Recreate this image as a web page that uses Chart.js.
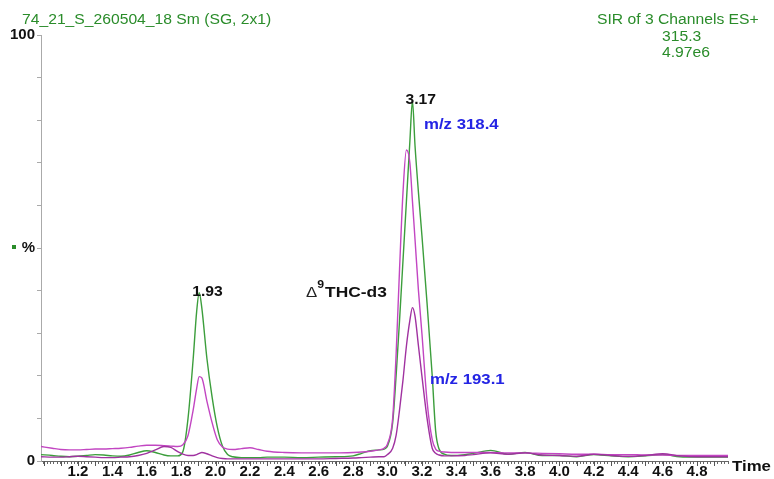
<!DOCTYPE html>
<html lang="en">
<head>
  <meta charset="UTF-8" />
  <title>SIR of 3 Channels</title>
  <script src="https://cdn.jsdelivr.net/npm/chart.js"></script>
  <style>
    html, body { margin: 0; padding: 0; background: #fff; }
    #wrap { width: 774px; height: 479px; position: relative; }
  </style>
</head>
<body>
  <div id="wrap"><canvas id="chrom"></canvas></div>

  <script>
    // retention time (min)
    const times = [
      0.985, 1.05, 1.10, 1.15, 1.20, 1.25, 1.30, 1.35, 1.40, 1.45,
      1.50, 1.55, 1.60, 1.65, 1.70, 1.74, 1.78, 1.81, 1.84, 1.87,
      1.89, 1.905, 1.92, 1.95, 1.98, 2.01, 2.04, 2.07, 2.10, 2.15,
      2.20, 2.25, 2.30, 2.40, 2.50, 2.60, 2.70, 2.80, 2.85, 2.90,
      2.95, 2.98, 3.00, 3.03, 3.05, 3.07, 3.09, 3.11, 3.13, 3.145,
      3.16, 3.18, 3.20, 3.23, 3.26, 3.28, 3.30, 3.33, 3.37, 3.45,
      3.50, 3.60, 3.70, 3.80, 3.90, 4.00, 4.10, 4.20, 4.30, 4.40,
      4.50, 4.60, 4.70, 4.80, 4.90, 4.98
    ];
    // relative intensity (%) per channel
    const greenSig = [
      1.5, 1.3, 1.1, 1.0, 1.1, 1.3, 1.5, 1.4, 1.2, 1.1,
      1.4, 2.0, 2.4, 2.0, 1.4, 1.2, 1.2, 2.2, 10, 24,
      35, 39.5, 36, 24, 15, 8, 3.5, 1.5, 1.0, 0.8,
      0.8, 0.8, 0.9, 0.9, 0.8, 0.9, 1.0, 1.2, 1.8, 2.4,
      2.6, 2.8, 3.5, 9, 20, 33, 47, 61, 75, 84.5,
      74, 63, 53, 37, 20, 7, 2.8, 1.6, 1.3, 1.5,
      1.8, 2.5, 1.6, 2.0, 1.3, 1.3, 1.0, 1.5, 1.2, 1.0,
      1.2, 1.5, 1.0, 0.9, 0.9, 0.9
    ];
    const magentaSig = [
      3.4, 3.0, 2.7, 2.6, 2.6, 2.7, 2.8, 2.8, 2.9, 3.0,
      3.2, 3.5, 3.7, 3.7, 3.6, 3.5, 3.4, 3.8, 6, 12,
      17, 19.8, 19.5, 14, 9, 5, 3.3, 2.8, 2.7, 2.9,
      3.1, 2.7, 2.3, 2.0, 1.9, 1.9, 1.9, 2.0, 2.1, 2.3,
      2.6, 3.0, 4, 10, 25, 45, 63, 73, 70, 61,
      52, 40, 30, 14, 5, 2.8, 2.3, 2.1, 2.0, 2.0,
      2.0, 2.0, 1.9, 1.9, 1.8, 1.7, 1.6, 1.6, 1.5, 1.5,
      1.4, 1.4, 1.3, 1.3, 1.3, 1.3
    ];
    const purpleSig = [
      1.0, 0.9, 0.9, 1.0, 1.1, 1.0, 0.9, 0.8, 0.8, 0.9,
      1.0, 1.3, 1.8, 2.6, 3.4, 3.2, 2.2, 1.6, 1.3, 1.3,
      1.5, 1.8, 2.0, 1.7, 1.2, 0.8, 0.6, 0.5, 0.5, 0.5,
      0.5, 0.5, 0.5, 0.5, 0.5, 0.5, 0.6, 0.7, 0.8, 0.9,
      1.0, 1.0, 1.5, 3, 6, 12, 19, 27, 33, 36,
      34, 27, 20, 10, 3, 1.8, 1.4, 1.2, 1.2, 1.3,
      1.5, 1.9, 1.6, 1.9, 1.4, 1.3, 1.1, 1.6, 1.3, 1.1,
      1.3, 1.7, 1.2, 1.0, 1.0, 1.0
    ];

    const xTickLabels = [1.2, 1.4, 1.6, 1.8, 2.0, 2.2, 2.4, 2.6, 2.8, 3.0,
                         3.2, 3.4, 3.6, 3.8, 4.0, 4.2, 4.4, 4.6, 4.8];
    const yTickValues = [0, 50, 100];
    const yTickTexts = ['0', '%', '100'];

    // peak labels: retention time and apex height
    const peakTimes = [1.93, 3.17];
    const peakHeights = [39.5, 84.5];

    const X_MIN = 0.985, X_MAX = 4.98;
    const FONT = '"Liberation Sans", Arial, Helvetica, sans-serif';
    const GREEN = '#3c9e3c', MAGENTA = '#c246c2', PURPLE = '#a032a0';
    const TEXT_GREEN = '#2a8c2a', BLUE = '#2424e4';

    // 0.02 min minor ticks along the time axis
    const minorTicks = [];
    for (let i = 0; 1 + i * 0.02 <= X_MAX + 1e-9; i++) {
      minorTicks.push(Math.round((1 + i * 0.02) * 100) / 100);
    }

    function series(vals) {
      return times.map((t, i) => ({ x: t, y: vals[i] }));
    }

    // text a little wider than the font, like the instrument printout
    function wideText(ctx, text, x, y, font, color, align, base) {
      ctx.save();
      ctx.translate(x, y);
      ctx.scale(1.12, 1);
      ctx.font = font;
      ctx.fillStyle = color;
      ctx.textAlign = align || 'left';
      ctx.textBaseline = base || 'alphabetic';
      ctx.fillText(text, 0, 0);
      const w = ctx.measureText(text).width * 1.12;
      ctx.restore();
      return w;
    }

    const decorations = {
      id: 'decorations',
      afterDraw(chart) {
        const ctx = chart.ctx;
        const xs = chart.scales.x, ys = chart.scales.y;
        const bottom = chart.chartArea.bottom;

        // longer tick every 0.1 min
        ctx.save();
        ctx.strokeStyle = '#555';
        ctx.lineWidth = 1;
        for (let i = 0; i <= 39; i++) {
          const px = Math.round(xs.getPixelForValue(1 + i * 0.1)) + 0.5;
          ctx.beginPath();
          ctx.moveTo(px, bottom);
          ctx.lineTo(px, bottom + 5);
          ctx.stroke();
        }
        ctx.restore();

        // header
        wideText(ctx, '74_21_S_260504_18 Sm (SG, 2x1)', 22, 24, '14px ' + FONT, TEXT_GREEN);
        wideText(ctx, 'SIR of 3 Channels ES+', 597, 24, '14px ' + FONT, TEXT_GREEN);
        wideText(ctx, '315.3', 662, 41, '14px ' + FONT, TEXT_GREEN);
        wideText(ctx, '4.97e6', 662, 57, '14px ' + FONT, TEXT_GREEN);

        // green marker by the % label
        ctx.fillStyle = TEXT_GREEN;
        ctx.fillRect(12, Math.round(ys.getPixelForValue(50)) - 3, 4, 4);

        // peak retention times
        peakTimes.forEach((t, i) => {
          wideText(ctx, t.toFixed(2), xs.getPixelForValue(t) + 4, ys.getPixelForValue(peakHeights[i]) - 1,
            'bold 14px ' + FONT, '#111', 'center', 'middle');
        });

        // channel labels
        wideText(ctx, 'm/z 318.4', xs.getPixelForValue(3.212), ys.getPixelForValue(78.9),
          'bold 15px ' + FONT, BLUE, 'left', 'middle');
        wideText(ctx, 'm/z 193.1', xs.getPixelForValue(3.247), ys.getPixelForValue(19.0),
          'bold 15px ' + FONT, BLUE, 'left', 'middle');

        // compound label
        let ax = xs.getPixelForValue(2.526), ay = ys.getPixelForValue(40.1);
        ax += wideText(ctx, '\u0394', ax, ay + 7, '15px ' + FONT, '#222');
        ax += wideText(ctx, '9', ax, ay - 2, 'bold 11px ' + FONT, '#111');
        wideText(ctx, 'THC-d3', ax + 1, ay + 7, 'bold 15.5px ' + FONT, '#111');

        // axis title
        wideText(ctx, 'Time', 732, 467, 'bold 15px ' + FONT, '#111', 'left', 'middle');
      }
    };

    new Chart(document.getElementById('chrom'), {
      type: 'line',
      data: {
        datasets: [
          { data: series(purpleSig), borderColor: PURPLE },
          { data: series(magentaSig), borderColor: MAGENTA },
          { data: series(greenSig), borderColor: GREEN }
        ]
      },
      options: {
        responsive: true,
        maintainAspectRatio: false,
        animation: false,
        layout: { padding: { top: 35, right: 46, left: 0, bottom: 0 } },
        elements: {
          point: { radius: 0 },
          line: { borderWidth: 1.4, fill: false, cubicInterpolationMode: 'monotone' }
        },
        plugins: { legend: { display: false }, tooltip: { enabled: false } },
        scales: {
          x: {
            type: 'linear',
            min: X_MIN,
            max: X_MAX,
            afterBuildTicks: s => { s.ticks = minorTicks.map(v => ({ value: v })); },
            afterFit: s => { s.height = 18; },
            grid: { drawOnChartArea: false, tickLength: 3, color: '#666' },
            border: { color: '#666' },
            ticks: {
              autoSkip: false,
              maxRotation: 0,
              padding: -1,
              color: '#111',
              font: { family: FONT, size: 15, weight: 'bold' },
              callback: v => xTickLabels.some(l => Math.abs(l - v) < 1e-6) ? v.toFixed(1) : ''
            }
          },
          y: {
            min: 0,
            max: 100,
            afterFit: s => { s.width = 41; },
            grid: { drawOnChartArea: false, tickLength: 4, color: '#aaa' },
            border: { color: '#aaa' },
            ticks: {
              stepSize: 10,
              padding: 2,
              color: '#111',
              font: { family: FONT, size: 15, weight: 'bold' },
              callback: v => {
                const k = yTickValues.indexOf(v);
                return k >= 0 ? yTickTexts[k] : '';
              }
            }
          }
        }
      },
      plugins: [decorations]
    });
  </script>
</body>
</html>
